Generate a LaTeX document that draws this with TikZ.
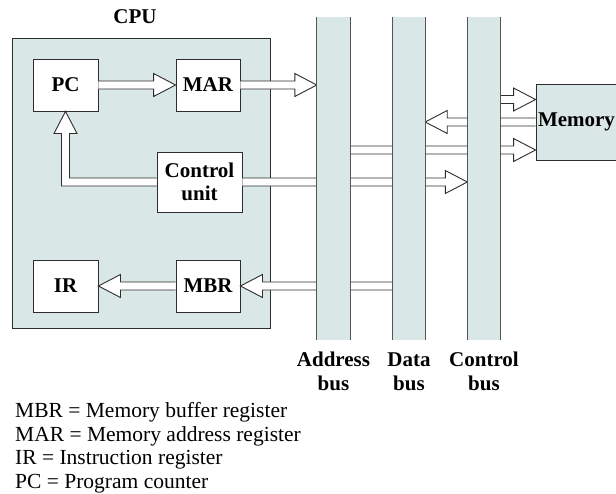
\documentclass[tikz,border=0pt]{standalone}
\usepackage{fontspec}
\setmainfont{Liberation Serif}
\usetikzlibrary{calc}
\definecolor{panel}{RGB}{218,231,231}
\definecolor{edge}{RGB}{45,45,45}
\definecolor{busline}{RGB}{85,85,85}
% hollow horizontal arrow from #1 to the tip #2
\newcommand{\hollowarrow}[2]{%
  \draw[hollow] let \p1=(#1), \p2=(#2), \n1={ifthenelse(\x2>\x1,22,-22)} in
    (\x1,\y1+4pt) -- ({\x2-(\n1)},\y1+4pt) -- ({\x2-(\n1)},\y1+11.5pt) -- (\x2,\y1)
    -- ({\x2-(\n1)},\y1-11.5pt) -- ({\x2-(\n1)},\y1-4pt) -- (\x1,\y1-4pt);}
\begin{document}
\begin{tikzpicture}[x=1pt, y=-1pt,
    % Box styles (registers, buses, labels)
    reg/.style={draw=edge, fill=white, line width=0.9pt, font=\fontsize{21}{23}\selectfont\bfseries, align=center, inner sep=0pt},
    cpubox/.style={draw=edge, fill=panel, line width=0.9pt, anchor=north west, inner sep=0pt},
    bus/.style={minimum width=33pt, minimum height=323pt, inner sep=0pt},
    busedge/.style={draw=busline, line width=1.2pt},
    lbl/.style={font=\fontsize{21}{24}\selectfont\bfseries, align=center, inner sep=0pt},
    key/.style={font=\fontsize{21.5}{23.7}\selectfont, align=left, inner sep=0pt, anchor=north west},
    hollow/.style={draw=edge, fill=white, line width=0.9pt}
]
\useasboundingbox (0,0) rectangle (616,493);

% ---------------------------------------------------------
% 1. CPU AND REGISTERS
% ---------------------------------------------------------
\node[cpubox, minimum width=258pt, minimum height=290pt] (cpu) at (12,38) {};
\node[lbl] (cpulabel) at (135,17) {CPU};

\node[reg, minimum width=65pt, minimum height=52pt] (pc) at (65.5,85) {PC};
\node[reg, minimum width=64pt, minimum height=52pt] (mar) at (208,85) {MAR};
\node[reg, minimum width=85pt, minimum height=60pt] (ctrl) at (199.5,182) {Control\\unit};
\node[reg, minimum width=65pt, minimum height=52pt] (ir) at (65.5,286) {IR};
\node[reg, minimum width=64pt, minimum height=52pt] (mbr) at (208,286) {MBR};

% ---------------------------------------------------------
% 2. BUSES AND MEMORY (Nodes)
% ---------------------------------------------------------
\node[bus] (abus) at (333.5,178.5) {};
\node[bus, minimum width=32pt] (dbus) at (409,178.5) {};
\node[bus] (cbus) at (484,178.5) {};

\node[reg, fill=panel, minimum width=81pt, minimum height=76pt] (mem) at (576.5,122) {Memory};
\coordinate (memtop) at ($(mem.west)+(0,-22.5)$);
\coordinate (membot) at ($(mem.west)+(0,28)$);

% ---------------------------------------------------------
% 3. HOLLOW ARROWS
% ---------------------------------------------------------
\hollowarrow{pc.east}{mar.west}
\hollowarrow{mar.east}{abus.west |- mar.east}
\hollowarrow{ctrl.east}{cbus.west |- ctrl.east}
\hollowarrow{dbus.west |- mbr.east}{mbr.east}
\hollowarrow{mbr.west}{ir.east}
\hollowarrow{cbus.east |- memtop}{memtop}
\hollowarrow{mem.west}{dbus.east |- mem.west}
\hollowarrow{abus.east |- membot}{membot}

% Control unit up to PC
\draw[hollow] let \p1=(ctrl.west), \p2=(pc.south) in
  (\x1,\y1+4pt) -- (\x2+4pt,\y1+4pt) -- (\x2+4pt,\y2-22pt) -- (\x2+11.5pt,\y2-22pt) -- (\x2,\y2)
  -- (\x2-11.5pt,\y2-22pt) -- (\x2-4pt,\y2-22pt) -- (\x2-4pt,\y1-4pt) -- (\x1,\y1-4pt);

% Buses over the arrows
\foreach \b in {abus, dbus, cbus} {
  \fill[panel] (\b.north west) rectangle (\b.south east);
  \draw[busedge] (\b.north west) -- (\b.south west) (\b.north east) -- (\b.south east);
}

% ---------------------------------------------------------
% 4. LABELS
% ---------------------------------------------------------
\node[lbl, anchor=north, yshift=-12pt] (alabel) at (abus.south) {Address\\bus};
\node[lbl, anchor=north, yshift=-12pt] (dlabel) at (dbus.south) {Data\\bus};
\node[lbl, anchor=north, yshift=-12pt] (clabel) at (cbus.south) {Control\\bus};

\node[key] (legend) at (15,402) {MBR = Memory buffer register\\MAR = Memory address register\\IR = Instruction register\\PC = Program counter};

\end{tikzpicture}
\end{document}
